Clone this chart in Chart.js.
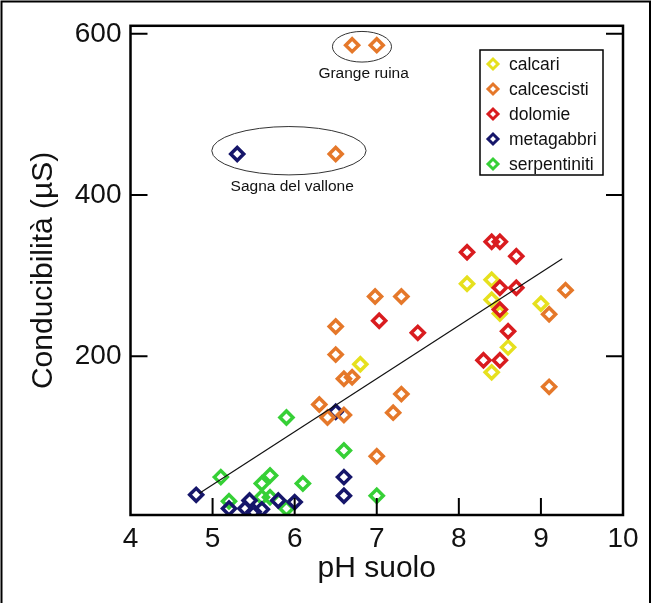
<!DOCTYPE html>
<html>
<head>
<meta charset="utf-8">
<script src="https://cdn.jsdelivr.net/npm/chart.js@4"></script>
<style>
    html, body { margin: 0; padding: 0; background: #fff; }
    #wrap { width: 654px; height: 603px; position: relative; }
</style>
</head>
<body>
<div id="wrap"><canvas id="chart" width="654" height="603"></canvas></div>
<script>
// ==================== Data ====================

const seriesNames = ['calcari', 'calcescisti', 'dolomie', 'metagabbri', 'serpentiniti'];
const seriesColors = ['#e6e01e', '#e5782a', '#d91c1f', '#16166a', '#36d036'];

const calcariX = [6.8, 8.1, 8.4, 8.4, 8.5, 8.6, 8.4, 9.0];
const calcariY = [190, 290, 295, 270, 253, 211, 180, 265];

const calcescistiX = [6.7, 7.0, 6.5, 6.98, 7.3, 6.5, 6.5, 6.6, 6.7, 7.3, 7.2, 6.3, 6.4, 6.6, 7.0, 9.3, 9.1, 9.1];
const calcescistiY = [586, 586, 451, 274, 274, 237, 202, 172, 174, 153, 130, 140, 124, 127, 76, 282, 252, 162];

const dolomieX = [8.1, 8.4, 8.5, 8.7, 8.5, 8.7, 8.5, 8.6, 8.3, 8.5, 7.03, 7.5];
const dolomieY = [329, 342, 342, 324, 285, 285, 258, 231, 195, 195, 244, 229];

const metagabbriX = [5.3, 6.5, 6.6, 6.6, 4.8, 5.2, 5.4, 5.45, 5.5, 5.6, 5.8, 6.0];
const metagabbriY = [451, 131, 50, 27, 28, 11, 11, 21, 7, 10, 21, 19];

const serpentinitiX = [5.9, 6.6, 7.0, 5.1, 5.7, 5.6, 6.1, 5.2, 5.6, 5.7, 5.9];
const serpentinitiY = [124, 83, 27, 50, 52, 42, 42, 20, 25, 25, 11];

// regression line
const trendX = [4.84, 9.26];
const trendY = [30, 321];

// circled groups (centre, radii in data units) and their captions
const groupNames = ['Grange ruina', 'Sagna del vallone'];
const groupCx = [6.82, 5.93];
const groupCy = [584, 455];
const groupRx = [0.36, 0.94];
const groupRy = [19, 30];
const groupLabelX = [6.84, 5.97];
const groupLabelY = [550, 410];

const xTicks = [4, 5, 6, 7, 8, 9, 10];
const yTicks = [200, 400, 600];

// ==================== Helpers ====================

function pts(xs, ys) {
    return xs.map((x, i) => ({ x, y: ys[i] }));
}

const seriesData = [
    pts(calcariX, calcariY),
    pts(calcescistiX, calcescistiY),
    pts(dolomieX, dolomieY),
    pts(metagabbriX, metagabbriY),
    pts(serpentinitiX, serpentinitiY)
];

const FONT = 'Arial, "Liberation Sans", sans-serif';

// frame, inward ticks, circled groups, legend box
const decorPlugin = {
    id: 'decor',
    beforeDraw(chart) {
        const ctx = chart.ctx;
        ctx.save();
        ctx.strokeStyle = '#000';
        ctx.lineWidth = 2;
        ctx.beginPath();
        ctx.moveTo(1.5, 603);
        ctx.lineTo(1.5, 1.5);
        ctx.lineTo(650, 1.5);
        ctx.lineTo(650, 603);
        ctx.stroke();
        ctx.restore();
    },
    afterDatasetsDraw(chart) {
        const { ctx, chartArea: a, scales: { x, y } } = chart;
        ctx.save();
        // plot frame
        ctx.strokeStyle = '#000';
        ctx.lineWidth = 2.5;
        ctx.strokeRect(a.left, a.top, a.right - a.left, a.bottom - a.top);
        // inward ticks
        ctx.lineWidth = 2;
        const tl = 17;
        yTicks.forEach(v => {
            const py = y.getPixelForValue(v);
            ctx.beginPath();
            ctx.moveTo(a.left, py); ctx.lineTo(a.left + tl, py);
            ctx.moveTo(a.right, py); ctx.lineTo(a.right - tl, py);
            ctx.stroke();
        });
        xTicks.slice(1, -1).forEach(v => {
            const px = x.getPixelForValue(v);
            ctx.beginPath();
            ctx.moveTo(px, a.bottom); ctx.lineTo(px, a.bottom - tl);
            ctx.stroke();
        });
        // circled groups
        ctx.strokeStyle = '#333';
        ctx.lineWidth = 1;
        ctx.fillStyle = '#111';
        ctx.font = '15.5px ' + FONT;
        ctx.textAlign = 'center';
        ctx.textBaseline = 'middle';
        groupNames.forEach((name, i) => {
            const cx = x.getPixelForValue(groupCx[i]);
            const cy = y.getPixelForValue(groupCy[i]);
            const rx = x.getPixelForValue(groupCx[i] + groupRx[i]) - cx;
            const ry = cy - y.getPixelForValue(groupCy[i] + groupRy[i]);
            ctx.beginPath();
            ctx.ellipse(cx, cy, rx, ry, 0, 0, Math.PI * 2);
            ctx.stroke();
            ctx.fillText(name, x.getPixelForValue(groupLabelX[i]), y.getPixelForValue(groupLabelY[i]));
        });
        // legend
        const lx = 480, ly = 50, lw = 123, lh = 125;
        ctx.fillStyle = '#fff';
        ctx.fillRect(lx, ly, lw, lh);
        ctx.strokeStyle = '#000';
        ctx.lineWidth = 1.5;
        ctx.strokeRect(lx, ly, lw, lh);
        ctx.font = '17.5px ' + FONT;
        ctx.textAlign = 'left';
        seriesNames.forEach((name, i) => {
            const ry = ly + 14 + i * 25;
            const sx = lx + 13, r = 5;
            ctx.beginPath();
            ctx.moveTo(sx - r, ry); ctx.lineTo(sx, ry - r);
            ctx.lineTo(sx + r, ry); ctx.lineTo(sx, ry + r);
            ctx.closePath();
            ctx.strokeStyle = seriesColors[i];
            ctx.lineWidth = 3;
            ctx.stroke();
            ctx.fillStyle = '#111';
            ctx.fillText(name, lx + 29, ry + 1);
        });
        ctx.restore();
    }
};

// ==================== Chart ====================

const datasets = seriesNames.map((name, i) => ({
    label: name,
    data: seriesData[i],
    pointStyle: 'rectRot',
    radius: 6.5,
    borderWidth: 3.5,
    borderColor: seriesColors[i],
    backgroundColor: 'rgba(255,255,255,0)',
    showLine: false,
    order: [2, 3, 1, 4, 5][i]
}));

datasets.push({
    label: 'trend',
    data: pts(trendX, trendY),
    showLine: true,
    borderColor: '#111',
    borderWidth: 1.2,
    pointRadius: 0,
    order: 0
});

new Chart(document.getElementById('chart').getContext('2d'), {
    type: 'scatter',
    data: { datasets },
    options: {
        responsive: false,
        animation: false,
        layout: { padding: { top: 24, right: 31, left: 0, bottom: 0 } },
        plugins: {
            legend: { display: false },
            tooltip: { enabled: false }
        },
        scales: {
            x: {
                type: 'linear',
                min: 4,
                max: 10,
                afterBuildTicks: s => { s.ticks = xTicks.map(v => ({ value: v })); },
                afterFit: s => { s.height = 88; },
                grid: { display: false, drawTicks: false },
                border: { display: false },
                ticks: { color: '#111', font: { family: FONT, size: 28 }, padding: 7 },
                title: {
                    display: true,
                    text: 'pH suolo',
                    color: '#111',
                    font: { family: FONT, size: 30 },
                    padding: { top: 0, bottom: 16 }
                }
            },
            y: {
                type: 'linear',
                min: 3,
                max: 610,
                afterBuildTicks: s => { s.ticks = yTicks.map(v => ({ value: v })); },
                afterFit: s => { s.width = 130.5; },
                grid: { display: false, drawTicks: false },
                border: { display: false },
                ticks: { color: '#111', font: { family: FONT, size: 28 }, padding: 9 },
                title: {
                    display: true,
                    text: 'Conducibilità (µS)',
                    color: '#111',
                    font: { family: FONT, size: 30 },
                    padding: { top: 26, bottom: 0 }
                }
            }
        }
    },
    plugins: [decorPlugin]
});
</script>
</body>
</html>
